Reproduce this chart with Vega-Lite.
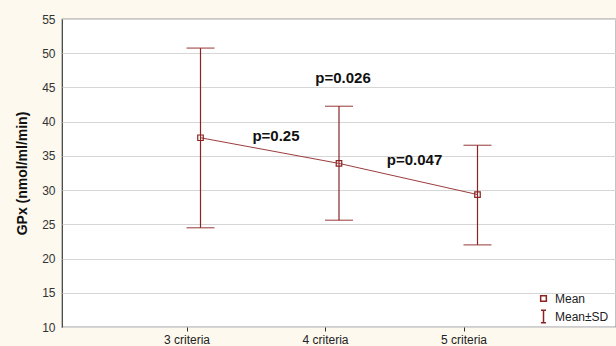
{
  "$schema": "https://vega.github.io/schema/vega-lite/v6.json",
  "autosize": "none",
  "width": 554,
  "height": 308,
  "padding": {"left": 62, "top": 19, "right": 0, "bottom": 19},
  "background": "#fdf9ee",
  "config": {
    "font": "Liberation Sans",
    "view": {"fill": "white", "stroke": "#3a3a3a", "strokeWidth": 1.2},
    "axisY": {
      "values": [10, 15, 20, 25, 30, 35, 40, 45, 50, 55],
      "labelFontSize": 12,
      "labelColor": "#333",
      "labelPadding": 7,
      "ticks": false,
      "domain": false,
      "grid": true,
      "gridColor": "#d6d6d6",
      "gridWidth": 1,
      "titleFontSize": 14,
      "titleFontWeight": "bold",
      "titleColor": "#111",
      "titlePadding": 12
    }
  },
  "datasets": {
    "stats": [
      {"group": "3 criteria", "mean": 37.65, "lower": 24.5, "upper": 50.75},
      {"group": "4 criteria", "mean": 33.9, "lower": 25.6, "upper": 42.25},
      {"group": "5 criteria", "mean": 29.35, "lower": 22.0, "upper": 36.55}
    ],
    "notes": [
      {"label": "p=0.25", "group": "4 criteria", "y": 37.95, "kind": "adjacent"},
      {"label": "p=0.047", "group": "5 criteria", "y": 34.45, "kind": "adjacent"},
      {"label": "p=0.026", "group": "4 criteria", "y": 46.4, "kind": "overall"}
    ]
  },
  "encoding": {
    "x": {
      "field": "group",
      "type": "nominal",
      "scale": {"type": "point", "padding": 1, "domain": ["3 criteria", "4 criteria", "5 criteria"]},
      "axis": {
        "title": null,
        "labelAngle": 0,
        "labelFontSize": 12,
        "labelColor": "#222",
        "tickOffset": -14,
        "tickSize": 4,
        "tickColor": "#333",
        "labelPadding": 3,
        "domain": false,
        "grid": false
      }
    }
  },
  "layer": [
    {
      "data": {"name": "stats"},
      "mark": {"type": "rule", "color": "#8b2323", "strokeWidth": 1.2},
      "encoding": {
        "y": {
          "field": "lower",
          "type": "quantitative",
          "scale": {"domain": [10, 55], "nice": false},
          "axis": {"title": "GPx (nmol/ml/min)", "values": [10, 15, 20, 25, 30, 35, 40, 45, 50, 55]}
        },
        "y2": {"field": "upper"}
      }
    },
    {
      "data": {"name": "stats"},
      "mark": {"type": "tick", "orient": "horizontal", "color": "#8b2323", "size": 28, "thickness": 1.3},
      "encoding": {"y": {"field": "lower", "type": "quantitative", "axis": {"title": "GPx (nmol/ml/min)", "values": [10, 15, 20, 25, 30, 35, 40, 45, 50, 55]}}}
    },
    {
      "data": {"name": "stats"},
      "mark": {"type": "tick", "orient": "horizontal", "color": "#8b2323", "size": 28, "thickness": 1.3},
      "encoding": {"y": {"field": "upper", "type": "quantitative", "axis": {"title": "GPx (nmol/ml/min)", "values": [10, 15, 20, 25, 30, 35, 40, 45, 50, 55]}}}
    },
    {
      "data": {"name": "stats"},
      "mark": {"type": "line", "color": "#9c3c3c", "strokeWidth": 1},
      "encoding": {"y": {"field": "mean", "type": "quantitative", "axis": {"title": "GPx (nmol/ml/min)", "values": [10, 15, 20, 25, 30, 35, 40, 45, 50, 55]}}}
    },
    {
      "data": {"name": "stats"},
      "mark": {"type": "point", "filled": false, "stroke": "#8b2323", "strokeWidth": 1.2, "size": 150, "opacity": 1},
      "encoding": {
        "y": {"field": "mean", "type": "quantitative", "axis": {"title": "GPx (nmol/ml/min)", "values": [10, 15, 20, 25, 30, 35, 40, 45, 50, 55]}},
        "shape": {
          "datum": "Mean",
          "scale": {
            "domain": ["Mean", "Mean±SD"],
            "range": ["M-0.45,-0.45H0.45V0.45H-0.45Z", "M-0.4,-1H0.4M0,-1V1M-0.4,1H0.4"]
          },
          "legend": {
            "title": null,
            "orient": "none",
            "legendX": 474,
            "legendY": 272,
            "symbolSize": 160,
            "labelFontSize": 12,
            "labelColor": "#222",
            "labelOffset": 4,
            "rowPadding": 2,
            "encode": {
              "symbols": {
                "update": {
                  "stroke": {"value": "#8b2323"},
                  "strokeWidth": {"value": 1.2},
                  "fill": {"value": "transparent"},
                  "opacity": {"value": 1}
                }
              }
            }
          }
        }
      }
    },
    {
      "data": {"name": "notes"},
      "transform": [{"filter": "datum.kind === 'adjacent'"}],
      "mark": {"type": "text", "fontSize": 15, "fontWeight": "bold", "color": "#111", "dx": -63, "baseline": "middle"},
      "encoding": {
        "y": {"field": "y", "type": "quantitative", "axis": {"title": "GPx (nmol/ml/min)", "values": [10, 15, 20, 25, 30, 35, 40, 45, 50, 55]}},
        "text": {"field": "label"}
      }
    },
    {
      "data": {"name": "notes"},
      "transform": [{"filter": "datum.kind === 'overall'"}],
      "mark": {"type": "text", "fontSize": 15, "fontWeight": "bold", "color": "#111", "dx": 4, "baseline": "middle"},
      "encoding": {
        "y": {"field": "y", "type": "quantitative", "axis": {"title": "GPx (nmol/ml/min)", "values": [10, 15, 20, 25, 30, 35, 40, 45, 50, 55]}},
        "text": {"field": "label"}
      }
    }
  ]
}
